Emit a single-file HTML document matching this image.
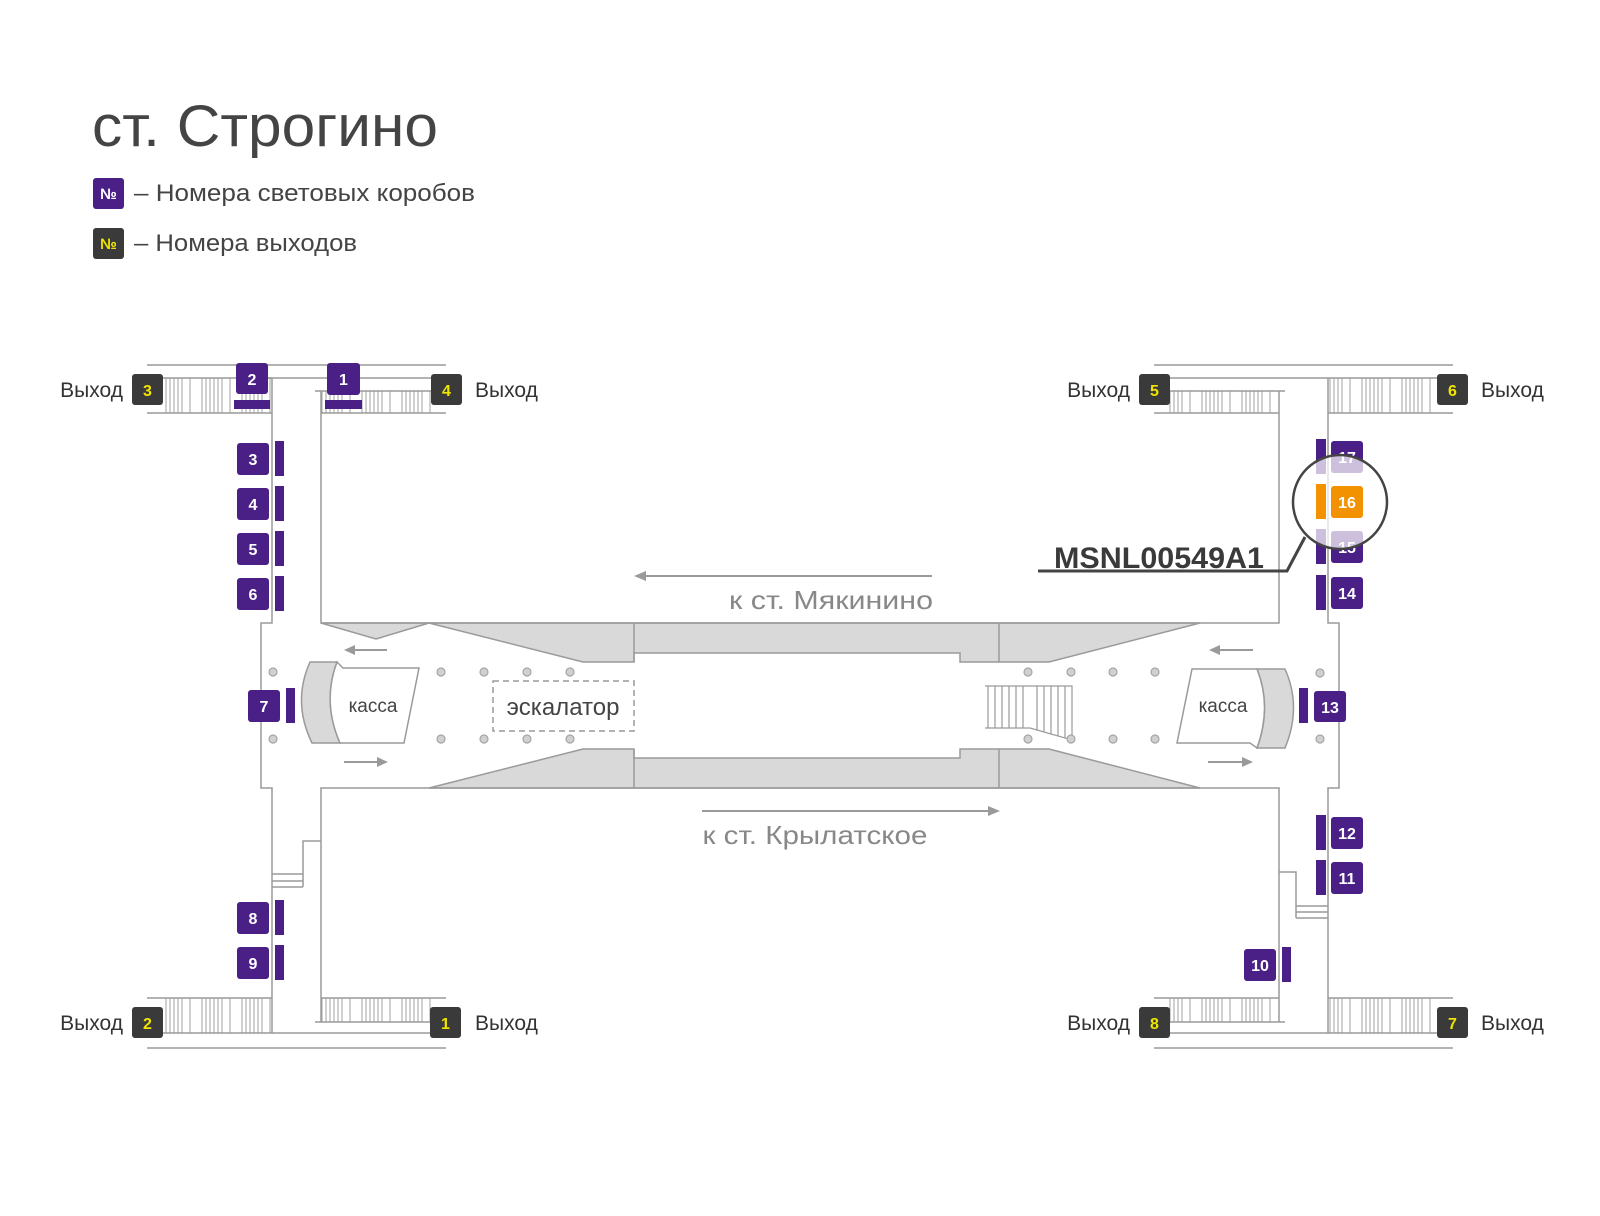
<!DOCTYPE html>
<html><head><meta charset="utf-8"><style>
html,body{margin:0;padding:0;background:#fff;}
svg{display:block;}
text{font-family:"Liberation Sans",sans-serif;}
</style></head><body>
<svg width="1600" height="1216" viewBox="0 0 1600 1216" xmlns="http://www.w3.org/2000/svg">
<defs>
<pattern id="st" patternUnits="userSpaceOnUse" width="40" height="10" x="0" y="0">
<g stroke="#a0a0a0" stroke-width="1"><line x1="2" y1="0" x2="2" y2="10"/><line x1="6" y1="0" x2="6" y2="10"/><line x1="10" y1="0" x2="10" y2="10"/><line x1="14" y1="0" x2="14" y2="10"/><line x1="18" y1="0" x2="18" y2="10"/><line x1="22" y1="0" x2="22" y2="10"/><line x1="30" y1="0" x2="30" y2="10"/></g>
</pattern>
</defs>
<rect width="1600" height="1216" fill="#fff"/>

<!-- Title & legend -->
<text x="92" y="146" font-size="58" fill="#444" textLength="346" lengthAdjust="spacingAndGlyphs">ст. Строгино</text>
<rect x="93" y="178" width="31" height="31" rx="3" fill="#4a1f86"/>
<text x="108.5" y="199" font-size="15" font-weight="bold" fill="#fff" text-anchor="middle">№</text>
<text x="134" y="201" font-size="24" fill="#444" textLength="341" lengthAdjust="spacingAndGlyphs">– Номера световых коробов</text>
<rect x="93" y="228" width="31" height="31" rx="3" fill="#3a3a3a"/>
<text x="108.5" y="249" font-size="15" font-weight="bold" fill="#f0e400" text-anchor="middle">№</text>
<text x="134" y="251" font-size="24" fill="#444" textLength="223" lengthAdjust="spacingAndGlyphs">– Номера выходов</text>

<!-- Stairs hatching -->
<g fill="url(#st)">
<rect x="163" y="378" width="109" height="35"/>
<rect x="321" y="391" width="112" height="22"/>
<rect x="1168" y="391" width="111" height="22"/>
<rect x="1328" y="378" width="110" height="35"/>
<rect x="163" y="998" width="109" height="35"/>
<rect x="321" y="998" width="112" height="24"/>
<rect x="1168" y="998" width="111" height="24"/>
<rect x="1328" y="998" width="110" height="35"/>
</g>

<!-- Hall gray shapes -->
<g fill="#d9d9d9" stroke="#9a9a9a" stroke-width="1.5">
<polygon points="321,623 376,639 429,623"/>
<polygon points="429,623 1200,623 1049,662 960,662 960,653 634,653 634,662 583,662"/>
<polygon points="429,788 583,749 634,749 634,758 960,758 960,749 1049,749 1200,788"/>
</g>
<g stroke="#9a9a9a" stroke-width="1.5">
<line x1="634" y1="623" x2="634" y2="662"/><line x1="999" y1="623" x2="999" y2="662"/>
<line x1="634" y1="749" x2="634" y2="788"/><line x1="999" y1="749" x2="999" y2="788"/>
</g>

<!-- Walls -->
<g stroke="#9a9a9a" stroke-width="1.5" fill="none">
<line x1="147" y1="365" x2="446" y2="365"/>
<line x1="163" y1="378" x2="272" y2="378"/>
<line x1="268" y1="378" x2="433" y2="378"/>
<line x1="147" y1="413" x2="272" y2="413"/>
<line x1="315" y1="391" x2="433" y2="391"/>
<line x1="321" y1="413" x2="446" y2="413"/>
<polyline points="272,378 272,623 261,623 261,788 272,788 272,1033"/>
<polyline points="321,391 321,623 1279,623 1279,391"/>
<polyline points="321,1022 321,788 1279,788 1279,1022"/>
<polyline points="321,841 303,841 303,887"/>
<line x1="272" y1="874" x2="303" y2="874"/><line x1="272" y1="881" x2="303" y2="881"/><line x1="272" y1="887" x2="303" y2="887"/>

<line x1="1154" y1="365" x2="1453" y2="365"/>
<line x1="1168" y1="378" x2="1438" y2="378"/>
<line x1="1168" y1="391" x2="1285" y2="391"/>
<line x1="1154" y1="413" x2="1279" y2="413"/>
<line x1="1328" y1="413" x2="1453" y2="413"/>
<polyline points="1328,378 1328,623 1339,623 1339,788 1328,788 1328,1033"/>
<polyline points="1279,872 1296,872 1296,918"/>
<line x1="1296" y1="906" x2="1328" y2="906"/><line x1="1296" y1="912" x2="1328" y2="912"/><line x1="1296" y1="918" x2="1328" y2="918"/>

<line x1="147" y1="998" x2="272" y2="998"/>
<line x1="321" y1="998" x2="446" y2="998"/>
<line x1="315" y1="1022" x2="435" y2="1022"/>
<line x1="163" y1="1033" x2="430" y2="1033"/>
<line x1="147" y1="1048" x2="446" y2="1048"/>
<line x1="1154" y1="998" x2="1279" y2="998"/>
<line x1="1328" y1="998" x2="1453" y2="998"/>
<line x1="1154" y1="1022" x2="1285" y2="1022"/>
<line x1="1170" y1="1033" x2="1438" y2="1033"/>
<line x1="1154" y1="1048" x2="1453" y2="1048"/>
</g>

<!-- Right small stairs in hall -->
<g stroke="#9a9a9a" stroke-width="1.2" fill="none">
<polyline points="985,686 1072,686 1072,740 1030,728 985,728"/>
<line x1="988" y1="686" x2="988" y2="728"/><line x1="995" y1="686" x2="995" y2="728"/><line x1="1002" y1="686" x2="1002" y2="728"/><line x1="1009" y1="686" x2="1009" y2="728"/><line x1="1016" y1="686" x2="1016" y2="728"/><line x1="1023" y1="686" x2="1023" y2="728"/><line x1="1037" y1="686" x2="1037" y2="730"/><line x1="1044" y1="686" x2="1044" y2="732"/><line x1="1051" y1="686" x2="1051" y2="734"/><line x1="1058" y1="686" x2="1058" y2="736"/><line x1="1065" y1="686" x2="1065" y2="738"/>
</g>

<!-- Dots -->
<g fill="#d0d0d0" stroke="#a5a5a5" stroke-width="1.2">
<circle cx="273" cy="672" r="4"/><circle cx="273" cy="739" r="4"/>
<circle cx="441" cy="672" r="4"/><circle cx="484" cy="672" r="4"/><circle cx="527" cy="672" r="4"/><circle cx="570" cy="672" r="4"/>
<circle cx="441" cy="739" r="4"/><circle cx="484" cy="739" r="4"/><circle cx="527" cy="739" r="4"/><circle cx="570" cy="739" r="4"/>
<circle cx="1028" cy="672" r="4"/><circle cx="1071" cy="672" r="4"/><circle cx="1113" cy="672" r="4"/><circle cx="1155" cy="672" r="4"/>
<circle cx="1028" cy="739" r="4"/><circle cx="1071" cy="739" r="4"/><circle cx="1113" cy="739" r="4"/><circle cx="1155" cy="739" r="4"/>
<circle cx="1320" cy="673" r="4"/><circle cx="1320" cy="739" r="4"/>
</g>

<!-- Escalator -->
<rect x="493" y="681" width="141" height="50" fill="none" stroke="#9a9a9a" stroke-width="1.5" stroke-dasharray="6,4"/>
<text x="563" y="715" font-size="24" fill="#444" text-anchor="middle">эскалатор</text>

<!-- Kassa left -->
<g stroke="#9a9a9a" stroke-width="1.5">
<path d="M310,662 L337,662 Q322,702 340,743 L312,743 Q292,702 310,662 Z" fill="#d9d9d9"/>
<path d="M337,662 L343,668 L419,668 L404,743 L340,743 Q322,702 337,662 Z" fill="#fff"/>
</g>
<text x="373" y="712" font-size="19" fill="#444" text-anchor="middle">касса</text>
<!-- Kassa right -->
<g stroke="#9a9a9a" stroke-width="1.5">
<path d="M1257,669 L1285,669 Q1302,707 1285,748 L1257,748 Q1272,707 1257,669 Z" fill="#d9d9d9"/>
<path d="M1192,669 L1257,669 Q1272,707 1257,748 L1250,743 L1177,743 Z" fill="#fff"/>
</g>
<text x="1223" y="712" font-size="19" fill="#444" text-anchor="middle">касса</text>

<!-- Flow arrows -->
<g stroke="#9a9a9a" stroke-width="2" fill="#9a9a9a">
<line x1="352" y1="650" x2="387" y2="650"/><polygon points="344,650 355,645 355,655" stroke="none"/>
<line x1="344" y1="762" x2="380" y2="762"/><polygon points="388,762 377,757 377,767" stroke="none"/>
<line x1="1217" y1="650" x2="1253" y2="650"/><polygon points="1209,650 1220,645 1220,655" stroke="none"/>
<line x1="1208" y1="762" x2="1244" y2="762"/><polygon points="1253,762 1242,757 1242,767" stroke="none"/>
<line x1="644" y1="576" x2="932" y2="576"/><polygon points="634,576 646,571 646,581" stroke="none"/>
<line x1="702" y1="811" x2="990" y2="811"/><polygon points="1000,811 988,806 988,816" stroke="none"/>
</g>
<text x="831" y="609" font-size="26" fill="#888" text-anchor="middle" textLength="204" lengthAdjust="spacingAndGlyphs">к ст. Мякинино</text>
<text x="815" y="844" font-size="26" fill="#888" text-anchor="middle" textLength="225" lengthAdjust="spacingAndGlyphs">к ст. Крылатское</text>

<!-- Light boxes -->
<g fill="#4a1f86">
<rect x="234" y="400" width="36" height="9"/><rect x="325" y="400" width="37" height="9"/>
<rect x="236" y="363" width="32" height="31" rx="3"/><rect x="327" y="363" width="33" height="32" rx="3"/>
<rect x="237" y="443" width="32" height="32" rx="3"/><rect x="275" y="441" width="9" height="35"/>
<rect x="237" y="488" width="32" height="32" rx="3"/><rect x="275" y="486" width="9" height="35"/>
<rect x="237" y="533" width="32" height="32" rx="3"/><rect x="275" y="531" width="9" height="35"/>
<rect x="237" y="578" width="32" height="32" rx="3"/><rect x="275" y="576" width="9" height="35"/>
<rect x="248" y="690" width="32" height="32" rx="3"/><rect x="286" y="688" width="9" height="35"/>
<rect x="237" y="902" width="32" height="32" rx="3"/><rect x="275" y="900" width="9" height="35"/>
<rect x="237" y="947" width="32" height="32" rx="3"/><rect x="275" y="945" width="9" height="35"/>
<rect x="1244" y="949" width="32" height="32" rx="3"/><rect x="1282" y="947" width="9" height="35"/>
<rect x="1331" y="862" width="32" height="32" rx="3"/><rect x="1316" y="860" width="10" height="35"/>
<rect x="1331" y="817" width="32" height="32" rx="3"/><rect x="1316" y="815" width="10" height="35"/>
<rect x="1314" y="691" width="32" height="31" rx="3"/><rect x="1299" y="688" width="9" height="35"/>
<rect x="1331" y="577" width="32" height="32" rx="3"/><rect x="1316" y="575" width="10" height="35"/>
<rect x="1331" y="531" width="32" height="32" rx="3"/><rect x="1316" y="529" width="10" height="35"/>
<rect x="1331" y="441" width="32" height="32" rx="3"/><rect x="1316" y="439" width="10" height="35"/>
</g>
<g fill="#fff" font-size="16" font-weight="bold" text-anchor="middle">
<text x="252" y="385">2</text><text x="343.5" y="385">1</text>
<text x="253" y="465">3</text><text x="253" y="510">4</text><text x="253" y="555">5</text><text x="253" y="600">6</text>
<text x="264" y="712">7</text><text x="253" y="924">8</text><text x="253" y="969">9</text>
<text x="1260" y="971">10</text><text x="1347" y="884">11</text><text x="1347" y="839">12</text>
<text x="1330" y="713">13</text><text x="1347" y="599">14</text><text x="1347" y="553">15</text><text x="1347" y="463">17</text>
</g>

<!-- Highlight circle -->
<circle cx="1340" cy="502" r="47" fill="#fff" fill-opacity="0.72" stroke="#444" stroke-width="2.5"/>
<rect x="1331" y="486" width="32" height="32" rx="3" fill="#f39200"/>
<rect x="1316" y="484" width="10" height="35" fill="#f39200"/>
<text x="1347" y="508" font-size="16" font-weight="bold" fill="#fff" text-anchor="middle">16</text>
<polyline points="1305,537 1287,571 1038,571" fill="none" stroke="#444" stroke-width="3"/>
<text x="1054" y="568" font-size="30" font-weight="bold" fill="#3a3a3a" textLength="210" lengthAdjust="spacingAndGlyphs">MSNL00549A1</text>

<!-- Exit boxes -->
<g fill="#3a3a3a">
<rect x="132" y="374" width="31" height="31" rx="3"/><rect x="431" y="374" width="31" height="31" rx="3"/>
<rect x="1139" y="374" width="31" height="31" rx="3"/><rect x="1437" y="374" width="31" height="31" rx="3"/>
<rect x="132" y="1007" width="31" height="31" rx="3"/><rect x="430" y="1007" width="31" height="31" rx="3"/>
<rect x="1139" y="1007" width="31" height="31" rx="3"/><rect x="1437" y="1007" width="31" height="31" rx="3"/>
</g>
<g fill="#f0e400" font-size="16" font-weight="bold" text-anchor="middle">
<text x="147.5" y="396">3</text><text x="446.5" y="396">4</text><text x="1154.5" y="396">5</text><text x="1452.5" y="396">6</text>
<text x="147.5" y="1029">2</text><text x="445.5" y="1029">1</text><text x="1154.5" y="1029">8</text><text x="1452.5" y="1029">7</text>
</g>
<g fill="#333" font-size="21">
<text x="123" y="397" text-anchor="end">Выход</text><text x="475" y="397">Выход</text>
<text x="1130" y="397" text-anchor="end">Выход</text><text x="1481" y="397">Выход</text>
<text x="123" y="1030" text-anchor="end">Выход</text><text x="475" y="1030">Выход</text>
<text x="1130" y="1030" text-anchor="end">Выход</text><text x="1481" y="1030">Выход</text>
</g>
</svg>
</body></html>
